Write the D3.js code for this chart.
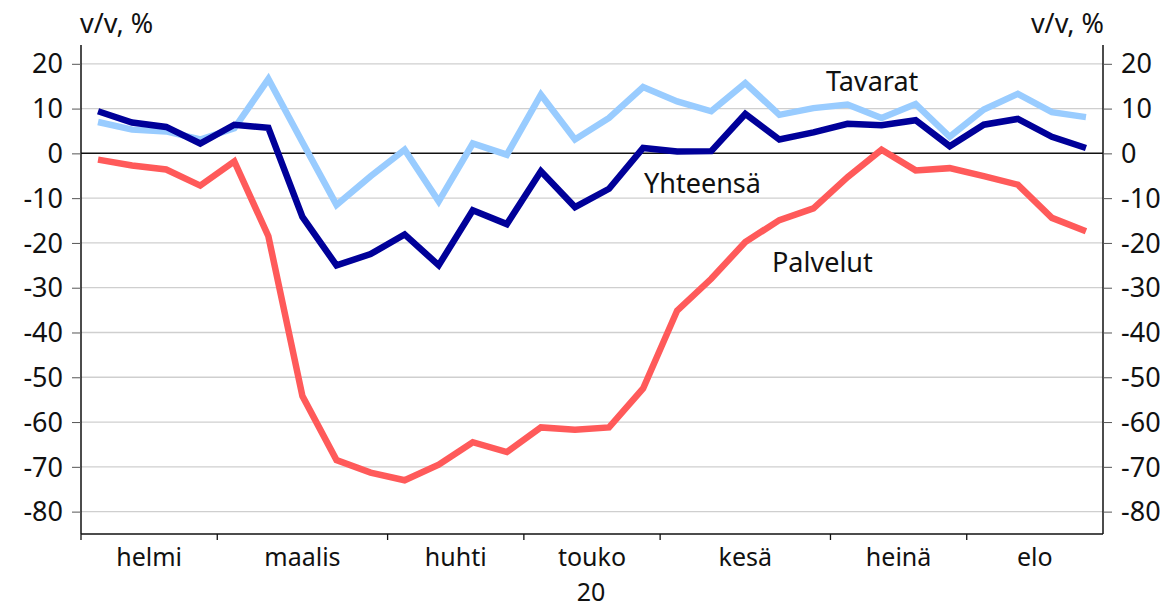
<!DOCTYPE html>
<html><head><meta charset="utf-8">
<script src="https://cdn.jsdelivr.net/npm/d3@7"></script>
<style>body{margin:0;background:#fff}svg{display:block}text{font-family:"Noto Sans",sans-serif;fill:#111}</style>
</head><body><svg id="c" width="1169" height="608"></svg>
<script>
const months = ["helmi","maalis","huhti","touko","kesä","heinä","elo"];
const weeksPerMonth = [4,5,4,4,5,4,4];
const yearLabel = "20";
const yTicks = [20,10,0,-10,-20,-30,-40,-50,-60,-70,-80];
const yhteensa = [9.4,6.9,5.9,2.2,6.4,5.7,-14.2,-25.0,-22.5,-18.1,-25.0,-12.7,-15.8,-4.0,-12.0,-7.9,1.2,0.4,0.5,8.8,3.1,4.7,6.6,6.3,7.4,1.6,6.4,7.7,3.7,1.2];
const tavarat = [7.0,5.3,4.9,3.1,5.6,16.6,2.5,-11.5,-5.1,0.8,-10.7,2.2,-0.3,13.1,3.1,7.9,14.8,11.6,9.4,15.7,8.6,10.1,10.9,7.9,11.0,3.7,9.8,13.3,9.2,8.1];
const palvelut = [-1.4,-2.7,-3.6,-7.2,-1.8,-18.5,-54.2,-68.5,-71.3,-73.0,-69.5,-64.5,-66.7,-61.2,-61.7,-61.2,-52.5,-35.1,-28.0,-19.8,-14.9,-12.3,-5.3,0.8,-3.8,-3.3,-5.1,-7.0,-14.4,-17.4];
const seriesNames = ["Tavarat","Yhteensä","Palvelut"];

const svg = d3.select("#c");
const L = 81, R = 1103, T = 45, B = 534;
const nW = yhteensa.length;
const x = d3.scaleBand().domain(d3.range(nW)).range([L, R]).paddingInner(0).paddingOuter(0);
const y = d3.scaleLinear().domain([-85, 24.2]).range([B, T]);

// gridlines
svg.append("g").selectAll("line").data(yTicks.filter(d=>d!==0)).join("line")
  .attr("x1",L).attr("x2",R).attr("y1",d=>y(d)).attr("y2",d=>y(d))
  .attr("stroke","#cfcfcf").attr("stroke-width",1.3);

// y axes
const ga = svg.append("g").attr("transform",`translate(${L},0)`)
  .call(d3.axisLeft(y).tickValues(yTicks).tickSize(9).tickPadding(9));
const gb = svg.append("g").attr("transform",`translate(${R},0)`)
  .call(d3.axisRight(y).tickValues(yTicks).tickSize(9).tickPadding(9));
[ga,gb].forEach(g=>{
  g.select(".domain").attr("d", `M0,${T}V${B}`).attr("stroke","#111").attr("stroke-width",1.5);
  g.selectAll(".tick line").attr("stroke","#555");
  g.selectAll(".tick text").attr("font-size",27).attr("font-family","Noto Sans").attr("fill","#111").attr("dy","0.34em")
    .text(d=>d<0?"-"+Math.abs(d):d);
});

// zero line
svg.append("line").attr("x1",L).attr("x2",R).attr("y1",y(0)).attr("y2",y(0)).attr("stroke","#111").attr("stroke-width",1.5);

// bottom axis
svg.append("line").attr("x1",L).attr("x2",R).attr("y1",B).attr("y2",B).attr("stroke","#111").attr("stroke-width",1.5);
let cum = 0; const bounds=[0];
weeksPerMonth.forEach(w=>{cum+=w; bounds.push(cum);});
bounds.slice(0,-1).forEach(b=>{
  const xx = x(b);
  svg.append("line").attr("x1",xx).attr("x2",xx).attr("y1",B).attr("y2",B+6).attr("stroke","#111").attr("stroke-width",1.3);
});
months.forEach((m,i)=>{
  const x0 = x(bounds[i]); const x1 = bounds[i+1]<nW ? x(bounds[i+1]) : R;
  svg.append("text").attr("x",(x0+x1)/2).attr("y",566).attr("text-anchor","middle").attr("font-size",25).text(m);
});
svg.append("text").attr("x",591).attr("y",601).attr("text-anchor","middle").attr("font-size",25).text(yearLabel);

// unit labels
svg.append("text").attr("x",80).attr("y",33).attr("font-size",27).text("v/v, %");
svg.append("text").attr("x",1104).attr("y",33).attr("text-anchor","end").attr("font-size",27).text("v/v, %");

// lines
const line = d3.line().x((d,i)=>x(i)+x.bandwidth()/2).y(d=>y(d));
[[tavarat,"#99ccff"],[palvelut,"#ff5a5a"],[yhteensa,"#000099"]].forEach(([data,col])=>{
  svg.append("path").datum(data).attr("d",line).attr("fill","none").attr("stroke",col).attr("stroke-width",6.5).attr("stroke-linejoin","miter").attr("stroke-miterlimit",2);
});

// labels
svg.append("text").attr("x",826).attr("y",91).attr("font-size",27).text(seriesNames[0]);
svg.append("text").attr("x",644).attr("y",193).attr("font-size",27).text(seriesNames[1]);
svg.append("text").attr("x",772).attr("y",272).attr("font-size",27).text(seriesNames[2]);
</script></body></html>
